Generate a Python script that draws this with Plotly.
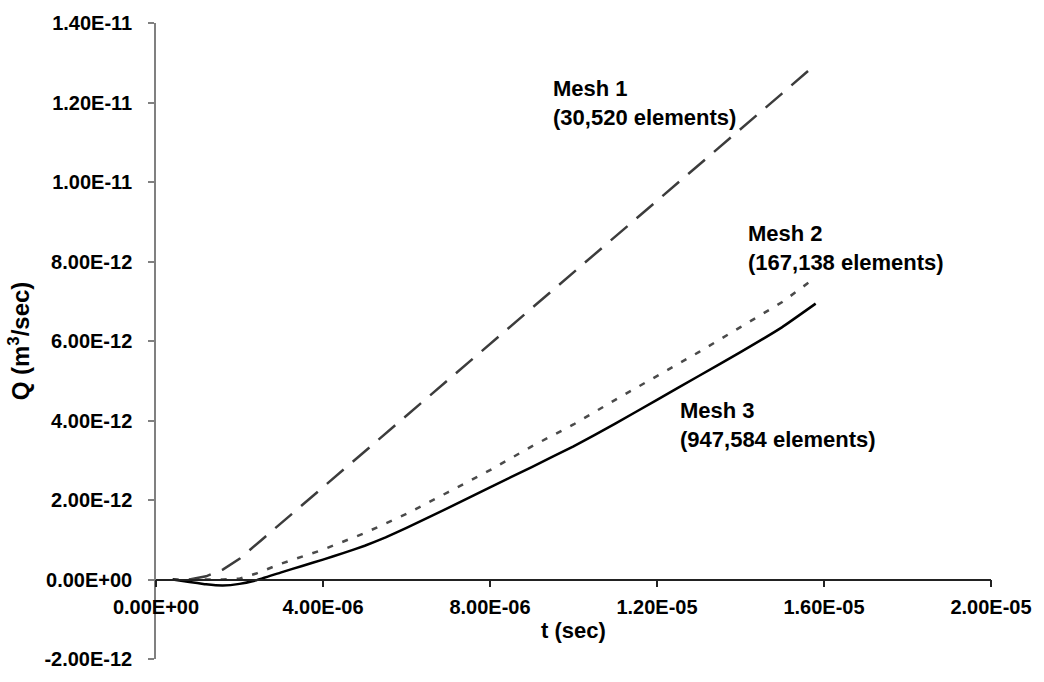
import plotly.graph_objects as go

# ---- data (t in seconds, Q in m^3/sec) ----
t_mesh1 = [0.8e-6, 1.2e-6, 1.6e-6, 2.0e-6, 2.5e-6, 3.0e-6, 3.5e-6, 4.0e-6, 5.0e-6, 6.0e-6,
           7.0e-6, 8.0e-6, 9.0e-6, 10.0e-6, 11.0e-6, 12.0e-6, 13.0e-6, 14.0e-6, 15.0e-6, 15.8e-6]
q_mesh1 = [0.0, 0.08e-12, 0.25e-12, 0.52e-12, 0.97e-12, 1.42e-12, 1.86e-12, 2.31e-12, 3.22e-12, 4.12e-12,
           5.03e-12, 5.93e-12, 6.83e-12, 7.73e-12, 8.63e-12, 9.53e-12, 10.43e-12, 11.33e-12, 12.23e-12, 12.96e-12]

t_mesh2 = [0.4e-6, 0.8e-6, 1.2e-6, 1.6e-6, 2.0e-6, 2.4e-6, 3.0e-6, 4.0e-6, 5.0e-6, 6.0e-6, 7.0e-6,
           8.0e-6, 9.0e-6, 10.0e-6, 11.0e-6, 12.0e-6, 13.0e-6, 14.0e-6, 15.0e-6, 15.8e-6]
q_mesh2 = [0.0, 0.0, 0.0, 0.0, 0.02e-12, 0.15e-12, 0.40e-12, 0.75e-12, 1.17e-12, 1.65e-12, 2.20e-12,
           2.75e-12, 3.35e-12, 3.90e-12, 4.52e-12, 5.12e-12, 5.72e-12, 6.35e-12, 6.98e-12, 7.60e-12]

t_mesh3 = [0.4e-6, 0.8e-6, 1.2e-6, 1.6e-6, 2.0e-6, 2.4e-6, 3.0e-6, 3.5e-6, 4.0e-6, 4.5e-6, 5.0e-6, 5.5e-6,
           6.0e-6, 7.0e-6, 8.0e-6, 9.0e-6, 10.0e-6, 11.0e-6, 12.0e-6, 13.0e-6, 14.0e-6, 15.0e-6, 15.8e-6]
q_mesh3 = [0.0, -0.06e-12, -0.12e-12, -0.15e-12, -0.11e-12, -0.02e-12, 0.18e-12, 0.34e-12, 0.5e-12,
           0.67e-12, 0.85e-12, 1.06e-12, 1.3e-12, 1.8e-12, 2.32e-12, 2.83e-12, 3.35e-12, 3.92e-12,
           4.52e-12, 5.12e-12, 5.72e-12, 6.35e-12, 6.94e-12]

series_names = ["Mesh 1<br>(30,520 elements)", "Mesh 2<br>(167,138 elements)", "Mesh 3<br>(947,584 elements)"]

x_title = "t (sec)"
y_title = "Q (m<sup>3</sup>/sec)"
x_tickvals = [0, 4e-6, 8e-6, 1.2e-5, 1.6e-5, 2e-5]
x_ticktext = ["0.00E+00", "4.00E-06", "8.00E-06", "1.20E-05", "1.60E-05", "2.00E-05"]
y_tickvals = [-2e-12, 0, 2e-12, 4e-12, 6e-12, 8e-12, 1e-11, 1.2e-11, 1.4e-11]
y_ticktext = ["-2.00E-12", "0.00E+00", "2.00E-12", "4.00E-12", "6.00E-12", "8.00E-12",
              "1.00E-11", "1.20E-11", "1.40E-11"]

FONT = "Liberation Sans, Arial, sans-serif"

fig = go.Figure()
fig.add_trace(go.Scatter(x=t_mesh1, y=q_mesh1, mode="lines", name="Mesh 1",
                         line=dict(color="#3c3c3c", width=2.5, dash="22px,12px")))
fig.add_trace(go.Scatter(x=t_mesh2, y=q_mesh2, mode="lines", name="Mesh 2",
                         line=dict(color="#4a4a4a", width=2.5, dash="6px,10px")))
fig.add_trace(go.Scatter(x=t_mesh3, y=q_mesh3, mode="lines", name="Mesh 3",
                         line=dict(color="#000000", width=2.5, shape="spline", smoothing=0.3)))

label_pos = [(9.45e-6, 11.99e-12), (14.13e-6, 8.34e-12), (12.5e-6, 3.89e-12)]
for name, (lx, ly) in zip(series_names, label_pos):
    fig.add_annotation(x=lx, y=ly, text=name, showarrow=False, xanchor="left", yanchor="middle",
                       align="left", font=dict(family=FONT, size=22, color="#000000", weight="bold"))

fig.update_layout(
    width=1044, height=682,
    margin=dict(l=156, r=50, t=18, b=14),
    paper_bgcolor="white", plot_bgcolor="white",
    showlegend=False,
    xaxis=dict(range=[0, 2e-5], tickvals=x_tickvals, ticktext=x_ticktext,
               anchor="free", position=0.125,
               title=dict(text=x_title, standoff=4,
                          font=dict(family=FONT, size=22, color="#000000", weight="bold")),
               showgrid=False, zeroline=False, showline=True, linecolor="#222222", linewidth=1.5,
               ticks="outside", ticklen=7, tickcolor="#222222", tickwidth=1.5,
               ticklabelstandoff=3,
               tickfont=dict(family=FONT, size=20, color="#000000", weight="bold")),
    yaxis=dict(range=[-2e-12, 1.4e-11], tickvals=y_tickvals, ticktext=y_ticktext,
               title=dict(text=y_title, standoff=8,
                          font=dict(family=FONT, size=24, color="#000000", weight="bold")),
               showgrid=False, zeroline=False, showline=True, linecolor="#808080", linewidth=1.5,
               ticks="outside", ticklen=6, tickcolor="#808080", tickwidth=1.5,
               ticklabelstandoff=12,
               tickfont=dict(family=FONT, size=20, color="#000000", weight="bold")),
)

fig.write_html("out.html")
